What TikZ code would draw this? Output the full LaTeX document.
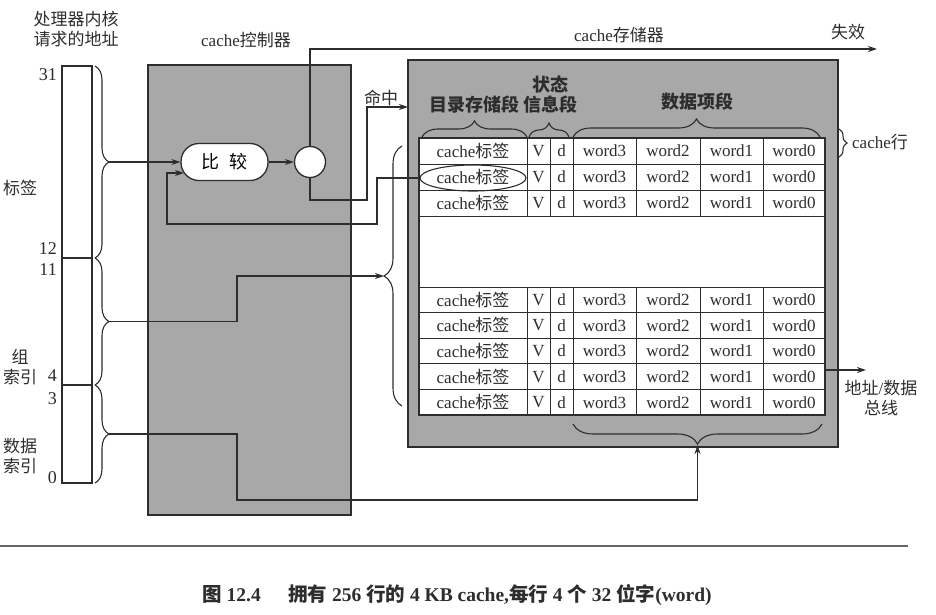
\documentclass[tikz,border=0pt]{standalone}
\usepackage{fontspec}
\setmainfont{Liberation Serif}
\newfontfamily\cjk{Noto Sans CJK SC}
\usetikzlibrary{arrows.meta,decorations.pathreplacing,shapes.geometric,calc}
\newcommand\zh[1]{{\cjk #1}}
\definecolor{boxgray}{RGB}{168,168,168}
\definecolor{ink}{RGB}{45,45,45}
\begin{document}
\begin{tikzpicture}[x=1pt,y=-1pt,
  conn/.style={line width=1.3pt, draw=ink},
  arr/.style={-{Stealth[length=9pt,width=6pt]}},
  brc/.style={line width=1.1pt, draw=ink, decorate},
  gbox/.style={draw=ink, line width=1.3pt, fill=boxgray, inner sep=0pt},
  lbl/.style={font=\fontsize{17}{20}\selectfont, inner sep=0pt, align=center, text=ink},
  cell/.style={font=\fontsize{17}{18}\selectfont, inner sep=0pt, text=ink},
  hdr/.style={font=\fontsize{18}{20}\selectfont\bfseries, inner sep=0pt, align=center, text=ink},
  num/.style={font=\fontsize{18}{18}\selectfont, inner sep=0pt, anchor=east, text=ink},
  field/.style={draw=ink, line width=1.1pt, fill=white, minimum width=30pt, inner sep=0pt},
  grid/.style={draw=ink, line width=1pt},
]
\useasboundingbox (0,0) rectangle (936,614);

% ---------- gray boxes ----------
\node[gbox, minimum width=203pt, minimum height=450pt] (ctrl) at (249.5,290) {};
\node[gbox, minimum width=430pt, minimum height=387pt] (store) at (623,253.5) {};

% ---------- address register ----------
\node[field, minimum height=192pt] (ftag) at (77,162) {};
\node[field, minimum height=127pt] (fidx) at (77,321.5) {};
\node[field, minimum height=98pt]  (fdat) at (77,434) {};

\node[num] (n31) at (57,75) {31};
\node[num] (n12) at (57,249) {12};
\node[num] (n11) at (57,270) {11};
\node[num] (n4)  at (57,376) {4};
\node[num] (n3)  at (57,399) {3};
\node[num] (n0)  at (57,478) {0};

\node[lbl] (lcpu) at (76,29) {\zh{处理器内核}\\\zh{请求的地址}};
\node[lbl] (ltag) at (20,188) {\zh{标签}};
\node[lbl] (lidx) at (20,367) {\zh{组}\\\zh{索引}};
\node[lbl] (ldat) at (20,456) {\zh{数据}\\\zh{索引}};
\node[lbl] (lctrl) at (246,40) {cache\zh{控制器}};
\node[lbl] (lstore) at (619,35) {cache\zh{存储器}};
\node[lbl] (lfail) at (848,32) {\zh{失效}};
\node[lbl] (lhit) at (381,98) {\zh{命中}};
\node[lbl] (lline) at (880,142) {cache\zh{行}};
\node[lbl] (lbus) at (881,398) {\zh{地址}/\zh{数据}\\\zh{总线}};

% address braces
\draw[brc, decoration={brace, amplitude=14pt}] (95,66) -- (95,258);
\draw[brc, decoration={brace, amplitude=14pt}] (95,258) -- (95,385);
\draw[brc, decoration={brace, amplitude=14pt}] (95,385) -- (95,483);
\coordinate (tagtip) at (109,162);
\coordinate (idxtip) at (109,321.5);
\coordinate (dattip) at (109,434);

% ---------- table ----------
\node[draw=ink, line width=1.1pt, fill=white, minimum width=406pt, minimum height=277pt, inner sep=0pt] (tbl) at (622,276.5) {};
\foreach \y in {164,190,216,287,312.6,338.2,363.8,389.4}
  \draw[grid] (419,\y) -- (825,\y);
\foreach \x in {527,550,573,636,700,763} {
  \draw[grid] (\x,138) -- (\x,216);
  \draw[grid] (\x,287) -- (\x,415);
}
\foreach \r/\yc in {a/151,b/177,c/203,d/300,e/325.4,f/351,g/376.6,h/402.2} {
  \node[cell] (tag\r) at (473,\yc) {cache\zh{标签}};
  \node[cell] (v\r) at (538.5,\yc) {V};
  \node[cell] (d\r) at (561.5,\yc) {d};
  \node[cell] (wt\r) at (604.5,\yc) {word3};
  \node[cell] (ws\r) at (668,\yc) {word2};
  \node[cell] (wo\r) at (731.5,\yc) {word1};
  \node[cell] (wz\r) at (794,\yc) {word0};
}
\node[draw=ink, line width=1.1pt, ellipse, minimum width=106pt, minimum height=26pt, inner sep=0pt] (ell) at (473,178) {};

% headers
\node[hdr] (hdir) at (474,105) {\zh{目录存储段}};
\node[hdr] (hstat) at (550,95) {\zh{状态}\\\zh{信息段}};
\node[hdr] (hdata) at (697,102) {\zh{数据项段}};
\draw[brc, decoration={brace, amplitude=16pt}] (422,137) -- (527,137);
\draw[brc, decoration={brace, amplitude=14pt}] (529,137) -- (569,137);
\draw[brc, decoration={brace, amplitude=18pt}] (573,137) -- (820,137);
\draw[brc, decoration={brace, amplitude=8pt}] (839,129) -- (839,157);
\draw[brc, decoration={brace, amplitude=18pt}] (402,406) -- (402,146);
\draw[brc, decoration={brace, amplitude=20pt}] (822,424) -- (573,424);
\coordinate (bigtip) at (384,276);
\coordinate (bottip) at (697.5,445);

% ---------- compare & hit ----------
\node[draw=ink, line width=1.3pt, fill=white, minimum width=87pt, minimum height=37pt, rounded corners=18pt, inner sep=0pt, font=\fontsize{18}{20}\selectfont] (cmp) at (224.5,162) {\zh{比\hspace{0.6em}较}};
\node[draw=ink, line width=1.3pt, fill=white, circle, minimum size=31pt, inner sep=0pt] (hit) at (310,162) {};

\coordinate (failend) at (877,49);
\coordinate (hitend) at (408,107);
\coordinate (fbend) at (184,173);
\coordinate (busend) at (866,370);

% ---------- connectors ----------
\draw[conn, arr] (tagtip) -- (cmp.west);
\draw[conn, arr] (cmp.east) -- (hit.west);
\draw[conn, arr] (hit.north) |- (failend);
\draw[conn, arr] (hit.south) |- (367,200) |- (hitend);
\draw[conn, arr] (ell.west) -| (377,224) -| (167,173) -- (fbend);
\draw[conn, arr] (idxtip) -| (237,276) -- (bigtip);
\draw[conn, arr] (dattip) -| (237,500) -| (bottip);
\draw[conn, arr] (tbl.east |- busend) -- (busend);

% ---------- rule & caption ----------
\draw[line width=1.5pt, draw=black!60] (0,546) -- (908,546);
\node[font=\fontsize{19.5}{21}\selectfont\bfseries, inner sep=0pt, text=ink] (cap) at (457,595)
  {\zh{图} 12.4\hspace{1.4em}\zh{拥有} 256 \zh{行的} 4 KB cache,\zh{每行} 4 \zh{个} 32 \zh{位字}(word)};
\end{tikzpicture}
\end{document}
